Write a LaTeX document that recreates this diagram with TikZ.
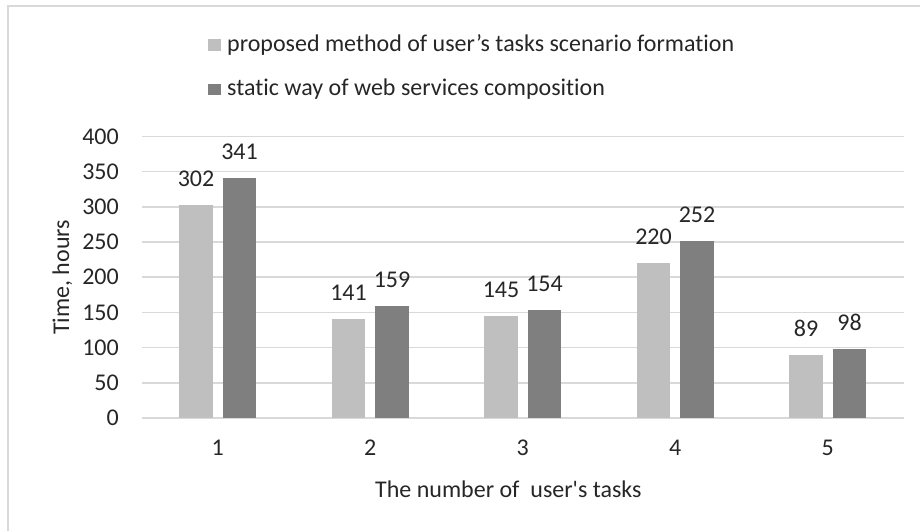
\documentclass[tikz,border=0pt]{standalone}
\usepackage{fontspec}
\setmainfont{Carlito}[Ligatures=NoCommon]
\usetikzlibrary{positioning}
\definecolor{lightbar}{HTML}{BFBFBF}
\definecolor{darkbar}{HTML}{7F7F7F}
\definecolor{gridgray}{HTML}{D9D9D9}
\definecolor{txtgray}{HTML}{262626}

\begin{document}
\begin{tikzpicture}[x=1pt, y=1pt, font=\fontsize{24}{29}\selectfont, text=txtgray,
    lbl/.style={inner sep=0pt},
    gridline/.style={gridgray, line width=1.5pt},
    barA/.style={fill=lightbar, draw=none},
    barB/.style={fill=darkbar, draw=none}]
  \useasboundingbox (0,0) rectangle (920,531);
  % Rahmen
  \draw[gridgray, line width=2.5pt] (8,0) -- (8,525) -- (920,525);
  % Gitter und Beschriftung der y-Achse
  \foreach \v in {0,50,...,400} {
    \pgfmathsetmacro{\yy}{113+0.704*\v}
    \draw[gridline] (141.5,\yy) -- (904,\yy);
    \node[lbl, anchor=east] (tick\v) at (119,\yy) {\v};
  }
  \draw[gridgray, line width=2pt] (141.5,113) -- (904,113);
  % Balken
  \foreach \i/\a/\b in {1/302/341, 2/141/159, 3/145/154, 4/220/252, 5/89/98} {
    \pgfmathsetmacro{\c}{65.25+152.5*\i}
    \pgfmathsetmacro{\ya}{113+0.704*\a}
    \pgfmathsetmacro{\yb}{113+0.704*\b}
    \fill[barA] (\c-38.5,113) rectangle (\c-5,\ya);
    \fill[barB] (\c+5,113) rectangle (\c+38.5,\yb);
    \node[lbl, anchor=base] (la\i) at (\c-21.75,\ya+18.5) {\a};
    \node[lbl, anchor=base] (lb\i) at (\c+21.75,\yb+18.5) {\b};
    \node[lbl] (cat\i) at (\c,83) {\i};
  }
  % Achsentitel
  \node[lbl, rotate=90, anchor=base] (ytitle) at (69,253.5) {Time, hours};
  \node[lbl, anchor=base west] (xtitle) at (375,34) {The number of\ \ user\textquotesingle s tasks};
  % Legende
  \fill[lightbar] (208,480) rectangle (221,492);
  \node[lbl, anchor=base west] (legA) at (227,479) {proposed method of user’s tasks scenario formation};
  \fill[darkbar] (208,436) rectangle (221,447);
  \node[lbl, anchor=base west] (legB) at (227,435) {static way of web services composition};
\end{tikzpicture}
\end{document}
